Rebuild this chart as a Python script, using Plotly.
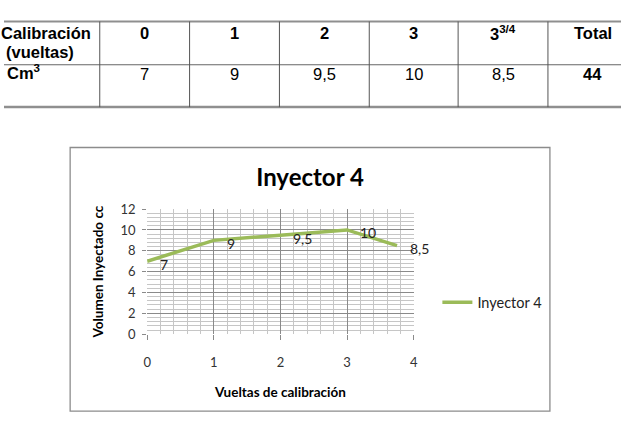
import plotly.graph_objects as go

W, H = 625, 423

# ---- data ----
vueltas = [0, 1, 2, 3, 3.75]
volumen = [7, 9, 9.5, 10, 8.5]
etiquetas = ["7", "9", "9,5", "10", "8,5"]

tabla_cab = ["0", "1", "2", "3", "3<sup>3/4</sup>", "Total"]
tabla_val = ["7", "9", "9,5", "10", "8,5", "44"]
tabla_neg = [False, False, False, False, False, True]

x_ticks = [0, 1, 2, 3, 4]
y_ticks = [0, 2, 4, 6, 8, 10, 12]

def px(x):
    return x / W

def py(y):
    return 1 - y / H

FONT = "Lato, 'Open Sans', sans-serif"
TFONT = "'Liberation Sans', Arial, sans-serif"
TS = 16.5

fig = go.Figure()
fig.add_trace(go.Scatter(
    x=vueltas, y=volumen, mode="lines", name="Inyector 4",
    line=dict(color="#9BBB59", width=3.5),
    cliponaxis=False,
))

shapes = []
annotations = []

# data labels (right of each point)
for xv, yv, lab in zip(vueltas, volumen, etiquetas):
    annotations.append(dict(text=lab, x=xv, y=yv, xref="x", yref="y",
                            xanchor="left", yanchor="middle", xshift=11, yshift=-3,
                            showarrow=False, font=dict(family=FONT, size=14, color="#222")))

# ---- table ----
col_lines = [97, 188, 279, 370, 460, 551, 642]
y_top, y_mid, y_bot = 14, 59, 103
for yy, wdt, colr in [(y_top, 2, "#8f8f8f"), (y_mid, 1.2, "#666"), (y_bot, 2.5, "#8f8f8f")]:
    shapes.append(dict(type="line", xref="paper", yref="paper",
                       x0=0, x1=1, y0=py(yy), y1=py(yy),
                       line=dict(color=colr, width=wdt)))
for xx in col_lines[:-1]:
    shapes.append(dict(type="line", xref="paper", yref="paper",
                       x0=px(xx), x1=px(xx), y0=py(y_top), y1=py(y_bot),
                       line=dict(color="#555", width=1)))

for txt, yy, xx in [("<b>Calibración</b>", 26, 89), ("<b>(vueltas)</b>", 46, 72),
                    ("<b>Cm<sup>3</sup></b>", 67, 37)]:
    annotations.append(dict(text=txt, xref="paper", yref="paper",
                            x=px(xx), y=py(yy), xanchor="right", yanchor="middle", align="right",
                            borderpad=0,
                            showarrow=False, font=dict(family=TFONT, size=TS, color="#000")))
for i, (c, v, b) in enumerate(zip(tabla_cab, tabla_val, tabla_neg)):
    cx = (col_lines[i] + col_lines[i + 1]) / 2
    annotations.append(dict(text="<b>%s</b>" % c, xref="paper", yref="paper",
                            x=px(cx), y=py(26), xanchor="center", yanchor="middle",
                            showarrow=False, font=dict(family=TFONT, size=TS, color="#000")))
    annotations.append(dict(text=("<b>%s</b>" % v) if b else v, xref="paper", yref="paper",
                            x=px(cx), y=py(69), xanchor="center", yanchor="middle",
                            showarrow=False, font=dict(family=TFONT, size=TS, color="#000")))

# ---- chart frame ----
shapes.append(dict(type="rect", xref="paper", yref="paper",
                   x0=px(67), x1=px(553), y0=py(419), y1=py(145),
                   line=dict(color="#8c8c8c", width=1.3), layer="below"))

fig.update_layout(
    width=W, height=H,
    margin=dict(l=0, r=0, t=0, b=0),
    paper_bgcolor="white", plot_bgcolor="white",
    font=dict(family=FONT, color="#333"),
    title=dict(text="<b>Inyector 4</b>", x=px(310), y=py(176), xanchor="center",
               yanchor="middle", xref="paper", yref="paper",
               font=dict(family=FONT, size=24, color="#000")),
    xaxis=dict(domain=[px(145), px(415)], range=[0, 4], tickvals=x_ticks,
               showgrid=True, gridcolor="#8a8a8a", gridwidth=1,
               minor=dict(dtick=0.2, showgrid=True, gridcolor="#c6c6c6", gridwidth=1),
               zeroline=False, showline=False,
               ticks="outside", ticklen=5, tickcolor="#8a8a8a",
               ticklabelstandoff=11,
               tickfont=dict(family=FONT, size=13, color="#333"),
               title=dict(text="<b>Vueltas de calibración</b>", standoff=18,
                          font=dict(family=FONT, size=13.5, color="#000"))),
    yaxis=dict(domain=[py(339), py(209)], range=[0, 12], tickvals=y_ticks,
               showgrid=True, gridcolor="#8a8a8a", gridwidth=1,
               minor=dict(dtick=0.4, showgrid=True, gridcolor="#c6c6c6", gridwidth=1),
               zeroline=False, showline=False,
               ticks="outside", ticklen=4, tickcolor="#8a8a8a",
               ticklabelstandoff=4,
               tickfont=dict(family=FONT, size=13, color="#333"),
               title=dict(text="<b>Volumen Inyectado cc</b>", standoff=13,
                          font=dict(family=FONT, size=13.5, color="#000"))),
    showlegend=True,
    legend=dict(x=px(439), y=py(306), xanchor="left", yanchor="middle",
                font=dict(family=FONT, size=14.5, color="#222"),
                bgcolor="rgba(0,0,0,0)"),
    shapes=shapes,
    annotations=annotations,
)

fig.write_html("out.html")
